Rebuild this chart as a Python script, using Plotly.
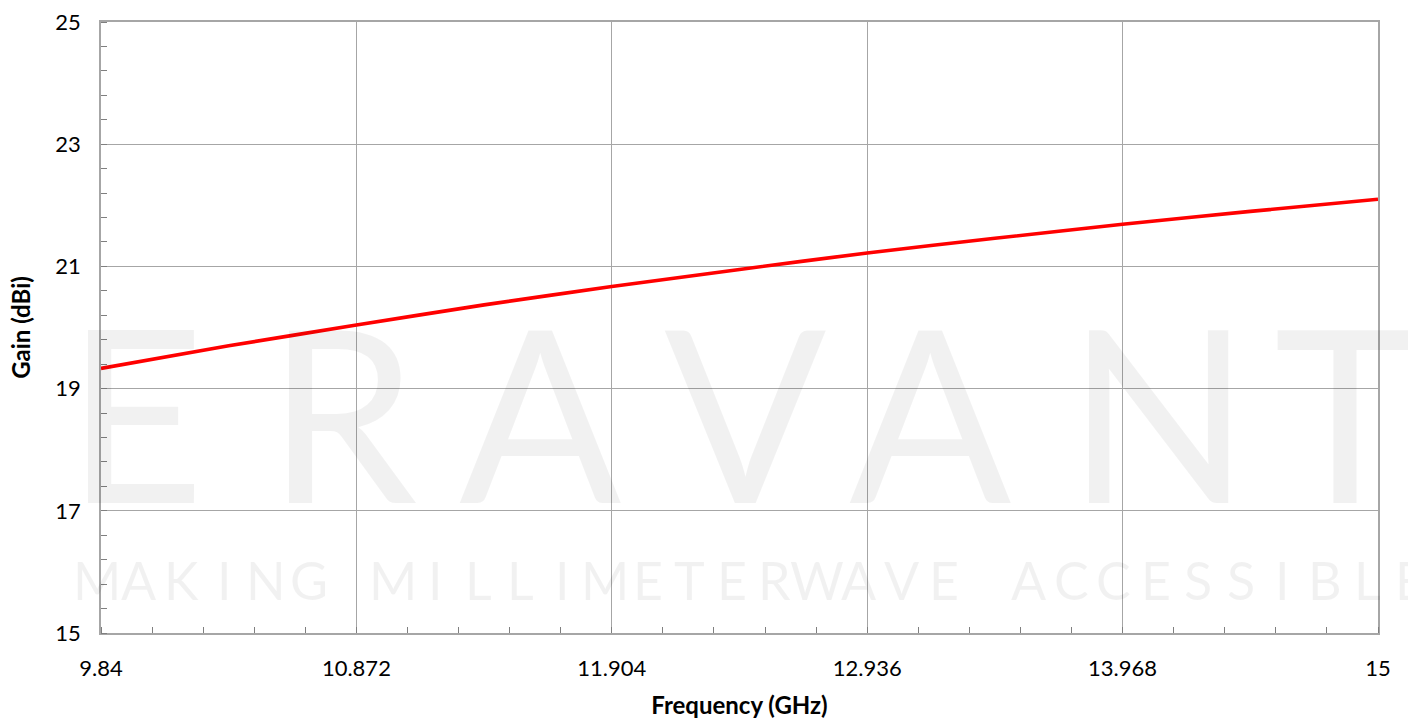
import plotly.graph_objects as go

freq_ghz = [9.84, 10.356, 10.872, 11.388, 11.904, 12.42, 12.936, 13.452, 13.968, 14.484, 15.0]
gain_dbi = [19.33, 19.70, 20.04, 20.37, 20.67, 20.95, 21.22, 21.46, 21.69, 21.90, 22.10]

x_tickvals = [9.84, 10.872, 11.904, 12.936, 13.968, 15.0]
x_ticktext = ["9.84", "10.872", "11.904", "12.936", "13.968", "15"]
y_tickvals = [15, 17, 19, 21, 23, 25]

wm_big = "ERAVANT"
wm_small = "MAKING MILLIMETERWAVE ACCESSIBLE"

W, H = 1408, 719
L, R, T, B = 101, 30, 22, 86
PW, PH = W - L - R, H - T - B

def px2paper_x(px):
    return (px - L) / PW

def px2paper_y(py):
    return (H - B - py) / PH

fig = go.Figure()
fig.add_trace(go.Scatter(x=freq_ghz, y=gain_dbi, mode="lines",
                         line=dict(color="#ff0000", width=3.6, shape="spline", smoothing=0.6),
                         showlegend=False, hoverinfo="skip"))

wm_color = "rgba(0,0,0,0.055)"
big_centers = [135, 342, 540, 745, 930, 1158, 1345]
annotations = []
for ch, cx in zip(wm_big, big_centers):
    annotations.append(dict(text=ch, x=px2paper_x(cx), y=px2paper_y(410), xref="paper", yref="paper",
                            showarrow=False, xanchor="center", yanchor="middle",
                            font=dict(family="Lato", size=240, color=wm_color)))
pitch = (1410 - 97) / (len(wm_small) - 1)
for i, ch in enumerate(wm_small):
    if ch == " ":
        continue
    annotations.append(dict(text=ch, x=px2paper_x(97 + i * pitch), y=px2paper_y(580), xref="paper", yref="paper",
                            showarrow=False, xanchor="center", yanchor="middle",
                            font=dict(family="Lato", size=52, color=wm_color)))

fig.update_layout(
    width=W, height=H,
    margin=dict(l=L, r=R, t=T, b=B, autoexpand=False),
    paper_bgcolor="white", plot_bgcolor="white",
    font=dict(family="Lato", color="black"),
    annotations=annotations,
    xaxis=dict(range=[9.84, 15.0], tickvals=x_tickvals, ticktext=x_ticktext,
               showgrid=True, gridcolor="#a6a6a6", gridwidth=1.3,
               showline=True, linecolor="#a6a6a6", linewidth=1.5, mirror=True,
               ticks="", tickfont=dict(size=22, family="Lato"), ticklabelstandoff=15,
               minor=dict(tick0=9.84, dtick=0.2064, ticks="inside", ticklen=6, tickcolor="#7f7f7f", showgrid=False),
               title=dict(text="<b>Frequency (GHz)</b>", font=dict(size=24, family="Lato"), standoff=20),
               zeroline=False),
    yaxis=dict(range=[15, 25], tickvals=y_tickvals,
               showgrid=True, gridcolor="#a6a6a6", gridwidth=1.3,
               showline=True, linecolor="#a6a6a6", linewidth=1.5, mirror=True,
               ticks="", tickfont=dict(size=22, family="Lato"), ticklabelstandoff=14,
               minor=dict(tick0=15, dtick=0.4, ticks="inside", ticklen=6, tickcolor="#7f7f7f", showgrid=False),
               title=dict(text="<b>Gain (dBi)</b>", font=dict(size=24, family="Lato"), standoff=18),
               zeroline=False),
)

fig.write_html("out.html", config={"displayModeBar": False},
               post_script="document.body.style.margin='0px';document.body.style.overflow='hidden';")
